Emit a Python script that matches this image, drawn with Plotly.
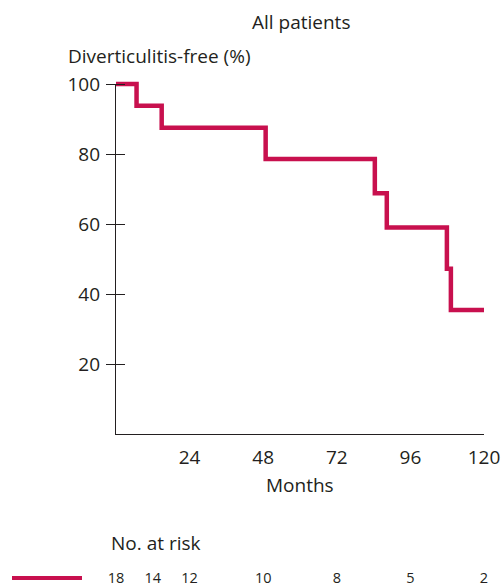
import plotly.graph_objects as go

# Kaplan-Meier step data (months, % diverticulitis-free)
event_months = [0, 6.7, 14.9, 48.8, 84.4, 88.3, 107.9, 109.2, 120]
survival_pct = [100, 93.8, 87.5, 78.6, 68.8, 59.0, 47.2, 35.4, 35.4]

x_ticks = [24, 48, 72, 96, 120]
y_ticks = [20, 40, 60, 80, 100]

risk_months = [0, 12, 24, 48, 72, 96, 120]
at_risk = [18, 14, 12, 10, 8, 5, 2]

RED = "#c8104e"
TXT = "#231f20"
FONT = "Open Sans"
FS = 19

W, H = 503, 586
L, R, T, B = 116, 19, 70, 0
plot_h = H - T - B
plot_w = W - L - R
y0_px = 434   # pixel of y=0
y100_px = 84  # pixel of y=100
TICKLEN = 9

def fy(px):
    return (H - B - px) / plot_h

def fx(px):
    return (px - L) / plot_w

fig = go.Figure()

# invisible anchors so that the visible axes get drawn
fig.add_trace(go.Scatter(x=[0], y=[0], mode="markers", marker=dict(opacity=0),
                         xaxis="x", yaxis="y", showlegend=False, hoverinfo="skip"))
fig.add_trace(go.Scatter(x=[0], y=[0], mode="markers", marker=dict(opacity=0),
                         xaxis="x", yaxis="y3", showlegend=False, hoverinfo="skip"))

fig.add_trace(go.Scatter(
    x=event_months, y=survival_pct, mode="lines",
    line=dict(color=RED, width=4.5, shape="hv"),
    xaxis="x", yaxis="y2", showlegend=False, hoverinfo="skip",
))

risk_row = 0.25
fig.add_trace(go.Scatter(
    x=risk_months, y=[risk_row] * len(risk_months), mode="text",
    text=[str(v) for v in at_risk], textposition="middle center",
    textfont=dict(family=FONT, size=14.5, color=TXT),
    xaxis="x", yaxis="y4", showlegend=False, cliponaxis=False, hoverinfo="skip",
))

top2 = 100 * (y0_px - T) / (y0_px - y100_px)
ydom = [fy(y0_px), fy(y100_px)]

fig.update_layout(
    width=W, height=H,
    margin=dict(l=L, r=R, t=T, b=B, pad=0),
    paper_bgcolor="white", plot_bgcolor="rgba(0,0,0,0)",
    font=dict(family=FONT, color=TXT, size=FS),
    xaxis=dict(range=[0, 120], tickvals=x_ticks, showgrid=False, zeroline=False,
               showline=True, linecolor="#231f20", linewidth=1.2, ticks="",
               tickfont=dict(size=FS), anchor="y", ticklabelstandoff=6),
    yaxis=dict(domain=ydom, range=[0, 100], tickvals=y_ticks,
               showgrid=False, zeroline=False, showline=True, linecolor="#231f20",
               linewidth=1.2, ticks="outside", ticklen=TICKLEN, tickcolor="#231f20",
               tickwidth=1.2, tickfont=dict(size=FS), anchor="x", ticklabelstandoff=2),
    # second set of ticks: continues each tick across the axis line (crossing ticks)
    yaxis3=dict(domain=ydom, range=[0, 100], tickvals=y_ticks, showticklabels=False,
                showgrid=False, zeroline=False, showline=False, ticks="outside",
                ticklen=TICKLEN, tickcolor="#231f20", tickwidth=1.2,
                anchor="free", position=TICKLEN / plot_w, side="left"),
    yaxis2=dict(domain=[fy(y0_px), 1], range=[0, top2], visible=False, anchor="x"),
    yaxis4=dict(domain=[0, fy(560)], range=[0, 1], visible=False, anchor="x"),
    annotations=[
        dict(text="All patients", x=fx(301), y=fy(22), xref="paper", yref="paper",
             xanchor="center", yanchor="middle", showarrow=False, font=dict(size=FS)),
        dict(text="Diverticulitis-free (%)", x=fx(66), y=fy(56), xref="paper",
             yref="paper", xanchor="left", yanchor="middle", showarrow=False, font=dict(size=FS)),
        dict(text="Months", x=fx(300), y=fy(485), xref="paper", yref="paper",
             xanchor="center", yanchor="middle", showarrow=False, font=dict(size=FS)),
        dict(text="No. at risk", x=fx(109), y=fy(543), xref="paper", yref="paper",
             xanchor="left", yanchor="middle", showarrow=False, font=dict(size=FS)),
    ],
    shapes=[
        dict(type="line", xref="paper", yref="paper",
             x0=fx(12), x1=fx(82), y0=fy(578), y1=fy(578), line=dict(color=RED, width=4)),
    ],
)

fig.write_html("out.html", config={"displayModeBar": False})

# remove the browser's default body margin so the figure sits at the page origin
with open("out.html", "r", encoding="utf-8") as f:
    html = f.read()
html = html.replace("<body>", '<body style="margin:0;padding:0;">', 1)
with open("out.html", "w", encoding="utf-8") as f:
    f.write(html)
